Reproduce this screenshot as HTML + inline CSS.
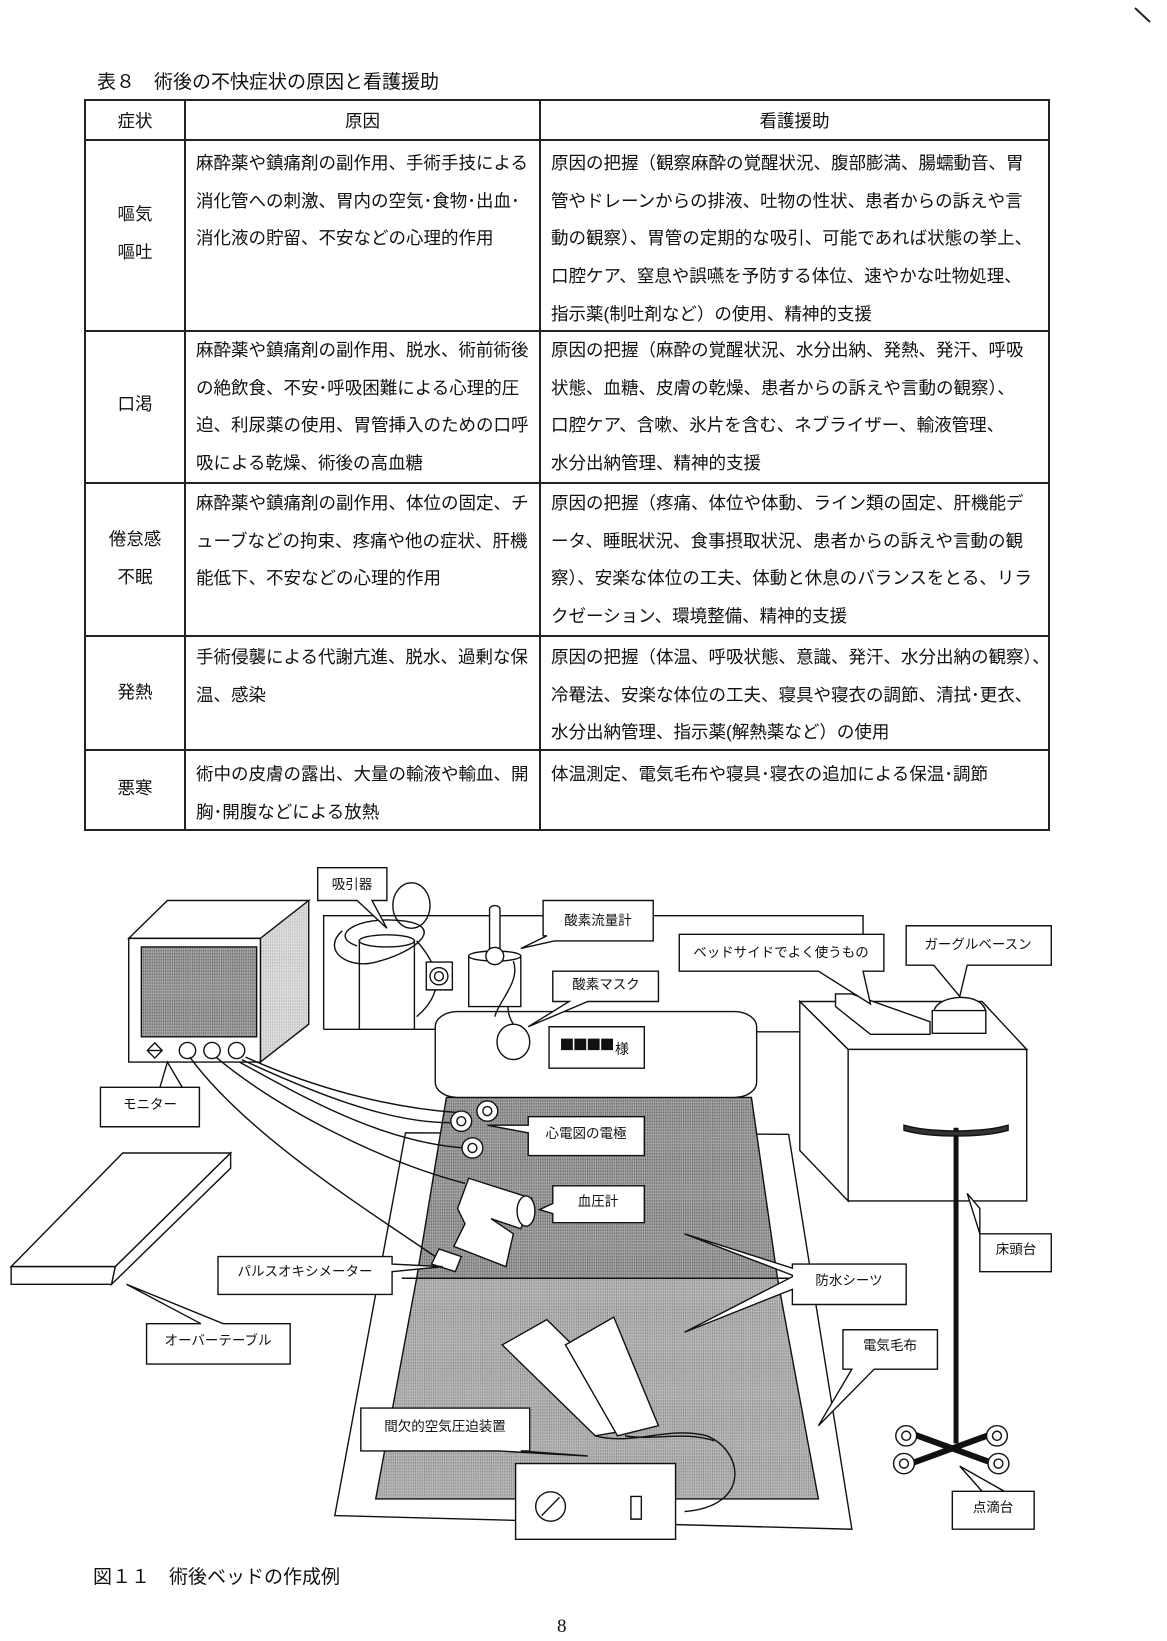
<!DOCTYPE html>
<html><head><meta charset="utf-8">
<style>
body{margin:0;background:#fff;}
#p{position:relative;width:1167px;height:1641px;overflow:hidden;background:#fff;font-family:"Liberation Sans","Noto Sans CJK JP",sans-serif;color:#111;}
.t{position:absolute;font-size:17.5px;line-height:37.7px;white-space:nowrap;}
.c{text-align:center;}
.h{position:absolute;background:#222;}
svg *{vector-effect:non-scaling-stroke;}
</style></head><body><div id="p">
<div class="t" style="left:97px;top:71px;line-height:24px;font-size:19px;">表８　術後の不快症状の原因と看護援助</div>
<div class="h" style="left:84px;top:99px;width:966px;height:2px"></div>
<div class="h" style="left:84px;top:139px;width:966px;height:1.5px"></div>
<div class="h" style="left:84px;top:330px;width:966px;height:1.5px"></div>
<div class="h" style="left:84px;top:482px;width:966px;height:1.5px"></div>
<div class="h" style="left:84px;top:635px;width:966px;height:1.5px"></div>
<div class="h" style="left:84px;top:749px;width:966px;height:1.5px"></div>
<div class="h" style="left:84px;top:829px;width:966px;height:2px"></div>
<div class="h" style="left:84px;top:99px;width:2px;height:732px"></div>
<div class="h" style="left:184px;top:99px;width:1.5px;height:732px"></div>
<div class="h" style="left:539px;top:99px;width:1.5px;height:732px"></div>
<div class="h" style="left:1048px;top:99px;width:2px;height:732px"></div>

<div class="t c" style="left:86px;width:98px;top:103px">症状</div>
<div class="t c" style="left:186px;width:353px;top:103px">原因</div>
<div class="t c" style="left:541px;width:507px;top:103px">看護援助</div>

<div class="t c" style="left:86px;width:98px;top:196px">嘔気<br>嘔吐</div>
<div class="t" style="left:196px;top:145px">麻酔薬や鎮痛剤の副作用、手術手技による<br>消化管への刺激、胃内の空気･食物･出血･<br>消化液の貯留、不安などの心理的作用</div>
<div class="t" style="left:551px;top:145px">原因の把握（観察麻酔の覚醒状況、腹部膨満、腸蠕動音、胃<br>管やドレーンからの排液、吐物の性状、患者からの訴えや言<br>動の観察）、胃管の定期的な吸引、可能であれば状態の挙上、<br>口腔ケア、窒息や誤嚥を予防する体位、速やかな吐物処理、<br>指示薬(制吐剤など）の使用、精神的支援</div>

<div class="t c" style="left:86px;width:98px;top:386px">口渇</div>
<div class="t" style="left:196px;top:332px">麻酔薬や鎮痛剤の副作用、脱水、術前術後<br>の絶飲食、不安･呼吸困難による心理的圧<br>迫、利尿薬の使用、胃管挿入のための口呼<br>吸による乾燥、術後の高血糖</div>
<div class="t" style="left:551px;top:332px">原因の把握（麻酔の覚醒状況、水分出納、発熱、発汗、呼吸<br>状態、血糖、皮膚の乾燥、患者からの訴えや言動の観察）、<br>口腔ケア、含嗽、氷片を含む、ネブライザー、輸液管理、<br>水分出納管理、精神的支援</div>

<div class="t c" style="left:86px;width:98px;top:521px">倦怠感<br>不眠</div>
<div class="t" style="left:196px;top:485px">麻酔薬や鎮痛剤の副作用、体位の固定、チ<br>ューブなどの拘束、疼痛や他の症状、肝機<br>能低下、不安などの心理的作用</div>
<div class="t" style="left:551px;top:485px">原因の把握（疼痛、体位や体動、ライン類の固定、肝機能デ<br>ータ、睡眠状況、食事摂取状況、患者からの訴えや言動の観<br>察）、安楽な体位の工夫、体動と休息のバランスをとる、リラ<br>クゼーション、環境整備、精神的支援</div>

<div class="t c" style="left:86px;width:98px;top:674px">発熱</div>
<div class="t" style="left:196px;top:639px">手術侵襲による代謝亢進、脱水、過剰な保<br>温、感染</div>
<div class="t" style="left:551px;top:639px">原因の把握（体温、呼吸状態、意識、発汗、水分出納の観察）、<br>冷罨法、安楽な体位の工夫、寝具や寝衣の調節、清拭･更衣、<br>水分出納管理、指示薬(解熱薬など）の使用</div>

<div class="t c" style="left:86px;width:98px;top:770px">悪寒</div>
<div class="t" style="left:196px;top:756px">術中の皮膚の露出、大量の輸液や輸血、開<br>胸･開腹などによる放熱</div>
<div class="t" style="left:551px;top:756px">体温測定、電気毛布や寝具･寝衣の追加による保温･調節</div>

<svg style="position:absolute;left:0;top:0" width="1167" height="1641">
<defs>
<pattern id="d1" width="3" height="3" patternUnits="userSpaceOnUse"><rect width="3" height="3" fill="#a8a8a8"/><rect width="1.5" height="1.5" fill="#555"/></pattern>
<pattern id="d2" width="3" height="3" patternUnits="userSpaceOnUse"><rect width="3" height="3" fill="#b8b8b8"/><rect width="1.2" height="1.2" fill="#666"/></pattern>
<pattern id="d3" width="3" height="3" patternUnits="userSpaceOnUse"><rect width="3" height="3" fill="#ddd"/><rect width="1" height="1" fill="#888"/></pattern>
</defs>
<g transform="translate(0,850) scale(0.744,0.505)" stroke="#111" stroke-width="1.4" fill="none">
<polyline points="435,355 435,130 1160,130 1160,170"/>
<line x1="435" y1="355" x2="585" y2="355"/>
<line x1="1017" y1="360" x2="1080" y2="360"/>
<polygon points="545,560 1060,563 1145,1345 450,1318" fill="#fff"/>
<polygon points="600,490 1010,490 1045,848 560,848" fill="url(#d1)"/>
<polygon points="560,848 1045,848 1100,1285 505,1285" fill="url(#d2)"/>
<line x1="540" y1="848" x2="1065" y2="848"/>
<rect x="585" y="320" width="432" height="170" rx="30" fill="#fff"/>
<rect x="738" y="350" width="128" height="82" fill="#fff"/>
<rect x="755" y="375" width="14" height="20" fill="#111"/><rect x="773" y="375" width="14" height="20" fill="#111"/><rect x="791" y="375" width="14" height="20" fill="#111"/><rect x="809" y="375" width="14" height="20" fill="#111"/>
<ellipse cx="690" cy="380" rx="22" ry="35" fill="#fff"/>
<path d="M690,345 C670,300 700,270 680,230"/>
<rect x="483" y="180" width="74" height="175" fill="#fff"/>
<ellipse cx="520" cy="180" rx="37" ry="12" fill="#fff"/>
<path d="M460,160 C430,200 470,240 510,220 C560,200 600,150 540,140 C480,130 440,170 480,190"/>
<ellipse cx="553" cy="110" rx="25" ry="45"/>
<path d="M560,180 C590,230 600,280 560,330"/>
<rect x="573" y="222" width="35" height="55" fill="#fff"/><ellipse cx="590" cy="250" rx="12" ry="17"/><ellipse cx="590" cy="250" rx="6" ry="9"/>
<rect x="630" y="210" width="70" height="100" fill="#fff"/><ellipse cx="665" cy="210" rx="35" ry="10" fill="#fff"/>
<rect x="658" y="110" width="14" height="95" rx="7" fill="#fff"/>
<ellipse cx="665" cy="210" rx="12" ry="17" fill="#fff"/>
<path d="M690,220 C700,260 670,300 665,330"/>
<polygon points="173,175 225,100 415,100 350,175" fill="#fff"/>
<polygon points="350,175 415,100 415,345 350,420" fill="url(#d3)"/>
<rect x="173" y="175" width="177" height="245" fill="#fff"/>
<rect x="190" y="192" width="155" height="178" fill="url(#d1)"/>
<polygon points="208,382 218,397 208,412 198,397"/><line x1="198" y1="397" x2="218" y2="397"/>
<ellipse cx="252" cy="397" rx="11" ry="16"/><ellipse cx="285" cy="397" rx="11" ry="16"/><ellipse cx="318" cy="397" rx="11" ry="16"/>
<path d="M330,410 C420,470 520,510 615,520"/>
<path d="M325,415 C420,480 520,540 605,540"/>
<path d="M322,420 C420,500 520,580 625,590"/>
<path d="M290,410 C380,520 520,620 625,660"/>
<path d="M255,410 C330,560 480,700 590,810"/>
<ellipse cx="655" cy="517" rx="14" ry="20" fill="#fff"/><ellipse cx="655" cy="517" rx="6" ry="9"/>
<ellipse cx="620" cy="537" rx="14" ry="20" fill="#fff"/><ellipse cx="620" cy="537" rx="6" ry="9"/>
<ellipse cx="635" cy="590" rx="14" ry="20" fill="#fff"/><ellipse cx="635" cy="590" rx="6" ry="9"/>
<path d="M630,650 L715,690 L700,750 L660,730 L690,760 L680,825 L610,785 L625,740 L615,710 Z" fill="#fff"/>
<ellipse cx="707" cy="715" rx="12" ry="30" fill="#fff"/>
<polygon points="590,790 620,805 612,835 580,820" fill="#fff"/>
<polygon points="675,980 735,930 880,1140 800,1160" fill="#fff"/>
<polygon points="760,980 825,925 885,1140 830,1160" fill="#fff"/>
<path d="M800,1160 C850,1180 900,1140 950,1160 C1000,1190 1010,1300 920,1310"/>
<path d="M840,1160 C880,1170 920,1150 960,1170"/>
<rect x="693" y="1215" width="215" height="150" fill="#fff"/>
<ellipse cx="740" cy="1300" rx="20" ry="29"/><line x1="728" y1="1318" x2="752" y2="1282"/>
<rect x="848" y="1280" width="14" height="45"/>
<polygon points="1075,300 1140,395 1380,395 1320,300" fill="#fff"/>
<polygon points="1075,300 1140,395 1140,695 1075,595" fill="#fff"/>
<rect x="1140" y="395" width="240" height="300" fill="#fff"/>
<polygon points="1123,285 1145,285 1250,340 1250,365 1170,365 1123,310" fill="#fff"/>
<path d="M1255,320 C1260,285 1320,280 1325,320 Z" fill="#fff"/><rect x="1253" y="318" width="72" height="45" fill="#fff"/>
<line x1="1285" y1="550" x2="1285" y2="1175" stroke-width="5"/>
<path d="M1215,545 C1250,560 1320,560 1355,545 L1355,555 C1320,570 1250,570 1215,555 Z" fill="#333"/>
<line x1="1215" y1="1150" x2="1345" y2="1220" stroke-width="6"/>
<line x1="1345" y1="1150" x2="1215" y2="1220" stroke-width="6"/>
<ellipse cx="1218" cy="1160" rx="14" ry="20" fill="#fff"/><ellipse cx="1218" cy="1160" rx="6" ry="9"/>
<ellipse cx="1340" cy="1160" rx="14" ry="20" fill="#fff"/><ellipse cx="1340" cy="1160" rx="6" ry="9"/>
<ellipse cx="1215" cy="1215" rx="14" ry="20" fill="#fff"/><ellipse cx="1215" cy="1215" rx="6" ry="9"/>
<ellipse cx="1342" cy="1215" rx="14" ry="20" fill="#fff"/><ellipse cx="1342" cy="1215" rx="6" ry="9"/>
<polygon points="15,825 165,600 310,600 155,825" fill="#fff"/>
<polygon points="15,825 155,825 150,860 15,860" fill="#fff"/>
<polygon points="155,825 310,600 310,630 150,860" fill="#fff"/>
<g fill="#fff">
<polygon points="427,35 520,35 520,100 500,100 520,155 480,100 427,100"/>
<polygon points="730,100 878,100 878,180 745,180 700,195 735,170 730,170"/>
<polygon points="913,167 1188,167 1188,240 1160,240 1170,305 1100,240 913,240"/>
<polygon points="1218,150 1413,150 1413,228 1300,228 1290,290 1255,228 1218,228"/>
<polygon points="743,240 885,240 885,300 790,300 710,350 765,300 743,300"/>
<polygon points="135,470 268,470 268,548 135,548 135,470 215,470 225,420 245,470"/>
<polygon points="710,528 866,528 866,605 710,605 710,560 655,545 710,545"/>
<polygon points="743,665 866,665 866,738 743,738 743,720 725,712 743,700"/>
<polygon points="293,805 527,805 527,820 595,825 527,835 527,880 293,880"/>
<polygon points="1065,820 1218,820 1218,900 1065,900 1065,870 920,955 1065,845 1065,842 920,760 1065,828"/>
<polygon points="197,938 270,938 170,860 300,938 390,938 390,1018 197,1018"/>
<polygon points="1133,950 1260,950 1260,1028 1175,1028 1100,1140 1145,1028 1133,1028"/>
<polygon points="1317,760 1413,760 1413,835 1317,835 1317,720 1317,710 1300,680"/>
<polygon points="485,1105 712,1105 712,1190 700,1190 790,1200 670,1190 485,1190"/>
<polygon points="1280,1270 1390,1270 1390,1345 1280,1345 1280,1270 1320,1270 1290,1220 1350,1270"/>
</g>
</g>
<g font-family="Liberation Sans, Noto Sans CJK JP, sans-serif" font-size="13.5" fill="#111" text-anchor="middle">
<text x="615" y="1054" text-anchor="start" font-size="14">様</text>
<text x="352" y="889">吸引器</text>
<text x="598" y="925">酸素流量計</text>
<text x="781" y="957">ベッドサイドでよく使うもの</text>
<text x="978" y="949">ガーグルベースン</text>
<text x="606" y="989">酸素マスク</text>
<text x="150" y="1109">モニター</text>
<text x="586" y="1138">心電図の電極</text>
<text x="598" y="1206">血圧計</text>
<text x="305" y="1276">パルスオキシメーター</text>
<text x="849" y="1285">防水シーツ</text>
<text x="218" y="1345">オーバーテーブル</text>
<text x="890" y="1350">電気毛布</text>
<text x="1016" y="1254">床頭台</text>
<text x="445" y="1431">間欠的空気圧迫装置</text>
<text x="993" y="1512">点滴台</text>
</g>
<text x="93" y="1583" font-size="19" fill="#111" font-family="Liberation Sans, Noto Sans CJK JP, sans-serif">図１１　術後ベッドの作成例</text>
<text x="557" y="1632" font-size="19" fill="#111" font-family="Liberation Serif, serif">8</text>
<line x1="1135" y1="8" x2="1150" y2="22" stroke="#222" stroke-width="2"/>
</svg>
</div></body></html>
